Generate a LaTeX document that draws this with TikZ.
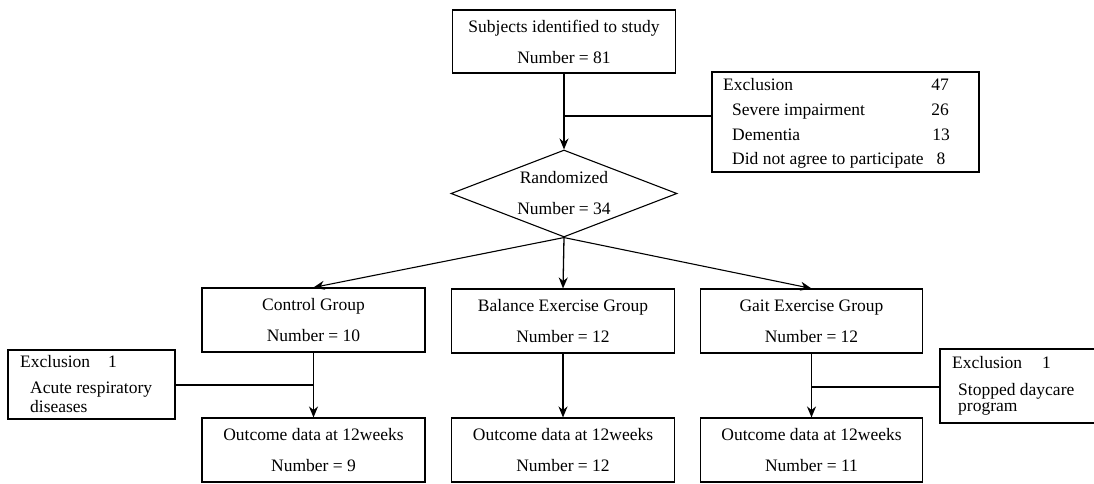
\documentclass[tikz,border=0pt]{standalone}
\usepackage{fontspec}
\setmainfont{Liberation Serif}
\usetikzlibrary{shapes.geometric,arrows.meta}
\tikzset{
  box/.style={draw, line width=1.1pt, minimum height=64pt, inner sep=0pt, align=center,
              font=\fontsize{17.5}{31}\selectfont},
  txt/.style={inner sep=0pt, font=\fontsize{17.5}{21}\selectfont, anchor=base west},
  num/.style={inner sep=0pt, font=\fontsize{17.5}{21}\selectfont, anchor=base},
  frame/.style={draw, line width=1.1pt, inner sep=0pt},
  arr/.style={-{Stealth[length=11pt,width=9pt]}, line width=1.3pt},
  ln/.style={line width=1.1pt}
}
\begin{document}
\begin{tikzpicture}[x=1pt,y=-1pt]
\clip (0,0) rectangle (1094,483);
% main column
\node[box, minimum width=223pt, minimum height=63pt] (subj) at (564,41.5) {Subjects identified to study\\Number = 81};
\node[diamond, draw, line width=1.1pt, aspect=2.6, minimum width=226pt, minimum height=87pt,
      inner sep=0pt, align=center, font=\fontsize{17.5}{31}\selectfont] (rand) at (564,193.5) {Randomized\\Number = 34};
% exclusion box (top)
\node[frame, minimum width=267pt, minimum height=100pt] (excl) at (845.5,122) {};
\node[txt] (e0) at (723,90) {Exclusion};
\node[num] (n0) at (940,90) {47};
\node[txt] (e1) at (732,115) {Severe impairment};
\node[num] (n1) at (940,115) {26};
\node[txt] (e2) at (732,140) {Dementia};
\node[num] (n2) at (941,140) {13};
\node[txt] (e3) at (732,164) {Did not agree to participate};
\node[num] (n3) at (941,164) {8};
% groups
\node[box, minimum width=223pt] (ctrl) at (313.5,320) {Control Group\\Number = 10};
\node[box, minimum width=223pt] (bal) at (563,321) {Balance Exercise Group\\Number = 12};
\node[box, minimum width=222pt] (gait) at (811.5,321) {Gait Exercise Group\\Number = 12};
% outcomes
\node[box, minimum width=223pt] (ctrlO) at (313.5,450) {Outcome data at 12weeks\\Number = 9};
\node[box, minimum width=223pt] (balO) at (563,450) {Outcome data at 12weeks\\Number = 12};
\node[box, minimum width=222pt] (gaitO) at (811.5,450) {Outcome data at 12weeks\\Number = 11};
% left exclusion
\node[frame, minimum width=167pt, minimum height=69pt] (exL) at (91.5,384.5) {};
\node[txt] (l0) at (20,367) {Exclusion};
\node[txt] (l0n) at (108,367) {1};
\node[txt] (l1) at (30,393) {Acute respiratory};
\node[txt] (l2) at (30,412) {diseases};
% right exclusion
\node[frame, minimum width=160pt, minimum height=74pt] (exR) at (1020,386) {};
\node[txt] (r0) at (952,368) {Exclusion};
\node[txt] (r0n) at (1042,368) {1};
\node[txt] (r1) at (958,395) {Stopped daycare};
\node[txt] (r2) at (958,411) {program};
% connectors
\coordinate (j1) at (564,116);
\draw[ln] (excl.west |- j1) -- (j1);
\draw[arr] (subj.south) -- (rand.north);
\draw[arr, line width=1.1pt] (rand.south) -- (ctrl.north);
\draw[arr] (rand.south) -- (bal.north);
\draw[arr, line width=1.1pt] (rand.south) -- (gait.north);
\draw[arr] (ctrl.south) -- (ctrlO.north);
\draw[arr, line width=1.6pt] (bal.south) -- (balO.north);
\draw[arr, line width=1.6pt] (gait.south) -- (gaitO.north);
\coordinate (jL) at (313.5,385);
\draw[ln] (exL.east |- jL) -- (jL);
\coordinate (jR) at (811.5,387);
\draw[ln] (exR.west |- jR) -- (jR);
\end{tikzpicture}
\end{document}
